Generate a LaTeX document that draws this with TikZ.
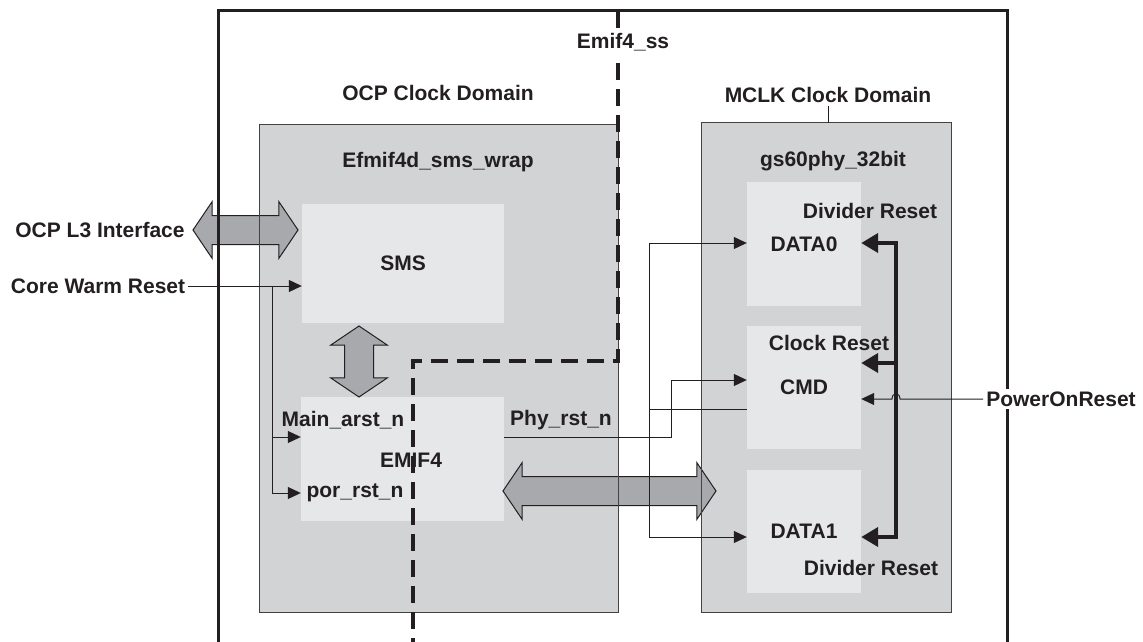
\documentclass[tikz,border=0pt]{standalone}
\usepackage{fontspec}
\setmainfont{Liberation Sans}
\usetikzlibrary{arrows.meta,shapes.arrows}
\definecolor{ink}{HTML}{231F20}
\definecolor{wrapgray}{HTML}{D1D3D4}
\definecolor{blockgray}{HTML}{E6E7E8}
\definecolor{busgray}{HTML}{A7A9AC}
\tikzset{
 lbl/.style={font=\fontsize{21}{24}\selectfont\bfseries,text=ink,inner sep=3pt},
 wrapbox/.style={fill=wrapgray,inner sep=0pt},
 blockbox/.style={lbl,fill=blockgray,inner sep=0pt},
 sigtip/.tip={Triangle[length=13pt,width=12pt]},
 bigtip/.tip={Triangle[length=17pt,width=19pt]},
 sig/.style={draw=ink,line width=1pt,-sigtip},
 bus/.style={draw=ink,line width=4pt},
 fatarrow/.style={double arrow,draw=ink,line width=1pt,fill=busgray,inner xsep=0pt,inner ysep=14pt,minimum width=56pt,double arrow head extend=14pt,double arrow tip angle=112},
}
\begin{document}
\begin{tikzpicture}[x=1pt,y=-1pt]
\useasboundingbox(0,0)rectangle(1143,642);
\node[wrapbox,minimum width=358,minimum height=487](ocp)at(439,368.5){};\node[wrapbox,minimum width=249,minimum height=489](mclk)at(826.5,367.5){};
\node[blockbox,minimum width=202,minimum height=119](sms)at(403,263.5){SMS};\node[blockbox,minimum width=203,minimum height=124](emif)at(402.5,459){};
\node[blockbox,minimum width=114,minimum height=124](data0)at(804,244){DATA0};\node[blockbox,minimum width=114,minimum height=123](cmd)at(804,387.5){CMD};
\node[blockbox,minimum width=114,minimum height=123](data1)at(804,531.5){DATA1};
\node[fatarrow,minimum height=105](ocpbus)at(245.5,230){};\node[fatarrow,minimum height=71,rotate=90](smsbus)at(359,361.5){};
\node[fatarrow,minimum height=213](phybus)at(609.5,491){};
\draw[ink!85,line width=1.2pt](ocp.north west)rectangle(ocp.south east);\draw[ink!85,line width=1.2pt](mclk.north west)rectangle(mclk.south east);
\draw[ink,line width=3pt](218,642)--(218,11)--(1007,11)--(1007,642);
\node[lbl](l3)at(100,230){OCP L3 Interface};\node[lbl](cwr)at(98,286){Core Warm Reset};
\coordinate(split)at(272,286);
\draw[sig](cwr.east)--(sms.west|-cwr.east);\draw[sig](split)|-(emif.west|-0,437);\draw[sig](split)|-(emif.west|-0,493);
\draw[sig](emif.east|-0,437)-|(671,380)--(cmd.west|-0,380);
\draw[sig](cmd.west|-0,409)-|(649,243)--(data0.west|-0,243);\draw[sig](cmd.west|-0,409)-|(649,537)--(data1.west|-0,537);
\draw[bus,bigtip-bigtip](data0.east|-0,243)-|(896,390)|-(data1.east|-0,537);\draw[bus,-bigtip](896,363)--(cmd.east|-0,363);
\node[lbl,fill=white](por)at(1061,399){PowerOnReset};
\draw[sig](por.west)--(900,399)..controls(900,392)and(892,392)..(892,399)--(cmd.east|-0,399);
\draw[ink,line width=3.5pt,dash pattern=on 17pt off 9pt](618,11)--(618,361)--(413,361)--(413,642);
\node[lbl,fill=white](ss)at(623,42){Emif4\_ss};
\node[lbl](ocpdom)at(438,93){OCP Clock Domain};\node[lbl](mclkdom)at(828,95){MCLK Clock Domain};
\draw[ink,line width=1pt](mclkdom.south)--(mclkdom.south|-mclk.north);
\node[lbl](wrap)at(438,162){Efmif4d\_sms\_wrap};\node[lbl](phy)at(833,161){gs60phy\_32bit};
\node[lbl](divtop)at(870,211){Divider Reset};\node[lbl](clkrst)at(829,343){Clock Reset};\node[lbl](divbot)at(871,568){Divider Reset};
\node[lbl](marst)at(343,420){Main\_arst\_n};\node[lbl](porrst)at(355,493){por\_rst\_n};\node[lbl](emiftxt)at(411,460){EMIF4};
\node[lbl](phyrst)at(561,420){Phy\_rst\_n};
\end{tikzpicture}
\end{document}
